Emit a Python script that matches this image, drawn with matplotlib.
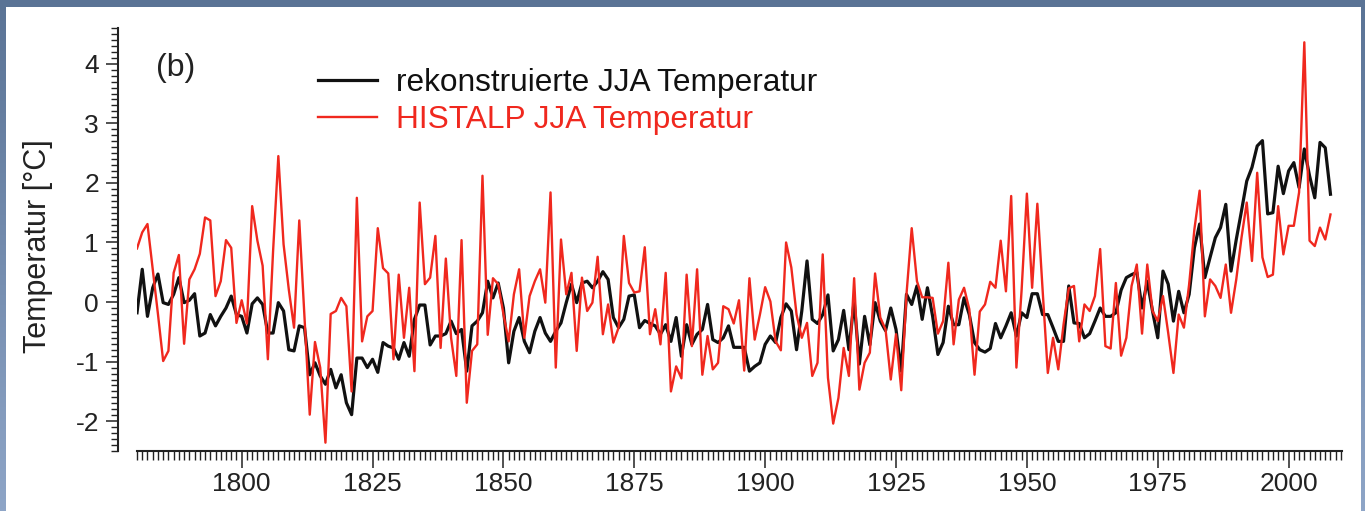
import numpy as np
import matplotlib
matplotlib.use("Agg")
import matplotlib.pyplot as plt
from matplotlib.ticker import MultipleLocator
from matplotlib.patches import Rectangle

plt.rcParams['font.family'] = ['Liberation Sans', 'DejaVu Sans']
plt.rcParams['axes.unicode_minus'] = False

# JJA temperature anomalies, 1780-2008
years = np.arange(1780, 2009)

recon = [
    # 1780-1789
    -0.18, 0.55, -0.24, 0.24, 0.47, -0.01, -0.04, 0.13, 0.41, -0.01,
    # 1790-1799
    0.03, 0.14, -0.57, -0.52, -0.21, -0.40, -0.24, -0.10, 0.10, -0.21,
    # 1800-1809
    -0.24, -0.52, -0.03, 0.07, -0.04, -0.52, -0.52, -0.01, -0.15, -0.80,
    # 1810-1819
    -0.82, -0.40, -0.43, -1.22, -1.02, -1.24, -1.38, -1.13, -1.44, -1.22,
    # 1820-1829
    -1.69, -1.89, -0.94, -0.94, -1.10, -0.96, -1.18, -0.68, -0.74, -0.77,
    # 1830-1839
    -0.96, -0.68, -0.91, -0.29, -0.05, -0.05, -0.72, -0.57, -0.57, -0.53,
    # 1840-1849
    -0.32, -0.53, -0.46, -1.16, -0.40, -0.32, -0.18, 0.35, 0.07, 0.32,
    # 1850-1859
    -0.10, -1.02, -0.49, -0.26, -0.66, -0.85, -0.49, -0.26, -0.52, -0.66,
    # 1860-1869
    -0.49, -0.35, -0.01, 0.30, -0.01, 0.32, 0.35, 0.24, 0.35, 0.51,
    # 1870-1879
    0.38, -0.26, -0.43, -0.29, 0.10, 0.12, -0.43, -0.31, -0.36, -0.40,
    # 1880-1889
    -0.54, -0.38, -0.66, -0.26, -0.91, -0.38, -0.71, -0.54, -0.46, -0.04,
    # 1890-1899
    -0.63, -0.68, -0.60, -0.40, -0.76, -0.76, -0.76, -1.16, -1.08, -1.02,
    # 1900-1909
    -0.71, -0.57, -0.68, -0.26, -0.03, -0.15, -0.80, -0.15, 0.69, -0.29,
    # 1910-1919
    -0.36, -0.21, 0.12, -0.82, -0.63, -0.14, -0.80, 0.02, -1.04, -0.24,
    # 1920-1929
    -0.72, -0.01, -0.32, -0.48, -0.10, -0.46, -1.16, 0.13, -0.04, 0.27,
    # 1930-1939
    -0.29, 0.24, -0.24, -0.88, -0.68, -0.07, -0.38, -0.38, 0.07, -0.21,
    # 1940-1949
    -0.68, -0.80, -0.84, -0.78, -0.36, -0.60, -0.40, -0.18, -0.57, -0.18,
    # 1950-1959
    -0.26, 0.14, 0.14, -0.21, -0.21, -0.43, -0.66, -0.66, 0.27, -0.35,
    # 1960-1969
    -0.36, -0.60, -0.53, -0.32, -0.10, -0.24, -0.24, -0.18, 0.20, 0.41,
    # 1970-1979
    0.46, 0.50, -0.10, 0.35, -0.15, -0.60, 0.52, 0.30, -0.32, 0.18,
    # 1980-1989
    -0.18, 0.13, 0.91, 1.31, 0.41, 0.75, 1.08, 1.25, 1.64, 0.52,
    # 1990-1999
    1.05, 1.53, 2.03, 2.26, 2.62, 2.71, 1.48, 1.50, 2.28, 1.82,
    # 2000-2008
    2.20, 2.34, 1.92, 2.57, 2.12, 1.75, 2.68, 2.59, 1.81,
]

histalp = [
    # 1780-1789
    0.90, 1.17, 1.31, 0.55, -0.20, -0.99, -0.82, 0.49, 0.79, -0.70,
    # 1790-1799
    0.38, 0.55, 0.81, 1.42, 1.37, 0.10, 0.35, 1.04, 0.91, -0.35,
    # 1800-1809
    0.03, -0.36, 1.61, 1.03, 0.61, -0.96, 0.86, 2.45, 0.97, 0.21,
    # 1810-1819
    -0.43, 1.37, -0.26, -1.89, -0.67, -1.10, -2.36, -0.20, -0.15, 0.07,
    # 1820-1829
    -0.07, -1.50, 1.75, -0.66, -0.24, -0.15, 1.24, 0.57, 0.48, -0.96,
    # 1830-1839
    0.46, -0.60, 0.24, -1.16, 1.67, 0.30, 0.41, 1.11, -0.77, 0.73,
    # 1840-1849
    -0.60, -1.24, 1.04, -1.69, -0.82, -0.71, 2.12, -0.55, 0.40, 0.30,
    # 1850-1859
    -0.20, -0.66, 0.13, 0.55, -0.60, 0.10, 0.35, 0.55, -0.01, 1.84,
    # 1860-1869
    -1.10, 1.05, 0.13, 0.49, -0.82, 0.41, -0.15, -0.01, 0.76, -0.54,
    # 1870-1879
    -0.04, -0.68, -0.43, 1.11, 0.32, 0.16, 0.18, 0.92, -0.54, -0.12,
    # 1880-1889
    -0.71, 0.49, -1.50, -1.08, -1.28, 0.46, -0.74, 0.55, -1.22, -0.57,
    # 1890-1899
    -1.13, -1.02, -0.07, -0.12, -0.36, 0.03, -1.15, 0.40, -0.63, -0.21,
    # 1900-1909
    0.25, 0.01, -0.66, -0.81, 1.00, 0.58, -0.21, -0.60, -0.35, -1.24,
    # 1910-1919
    -1.02, 0.80, -1.27, -2.04, -1.61, -0.77, -1.24, 0.40, -1.47, -1.02,
    # 1920-1929
    -0.85, 0.48, -0.26, -0.46, -1.30, -0.54, -1.48, 0.13, 1.24, 0.35,
    # 1930-1939
    0.08, 0.08, 0.07, -0.53, -0.32, 0.66, -0.71, 0.04, 0.24, -0.12,
    # 1940-1949
    -1.22, -0.16, -0.04, 0.34, 0.24, 1.03, 0.18, 1.78, -1.10, 0.21,
    # 1950-1959
    1.82, 0.24, 1.65, 0.21, -1.19, -0.60, -1.13, -0.38, 0.23, 0.27,
    # 1960-1969
    -0.66, -0.04, -0.15, 0.10, 0.89, -0.74, -0.78, 0.32, -0.90, -0.60,
    # 1970-1979
    0.27, 0.63, -0.53, 0.63, -0.15, -0.32, 0.10, -0.52, -1.19, -0.21,
    # 1980-1989
    -0.43, 0.30, 1.22, 1.87, -0.24, 0.38, 0.27, 0.07, 0.63, -0.18,
    # 1990-1999
    0.38, 1.08, 1.67, 0.69, 2.17, 0.75, 0.42, 0.46, 1.61, 0.80,
    # 2000-2008
    1.28, 1.28, 1.84, 4.36, 1.03, 0.94, 1.25, 1.05, 1.47,
]

W, H = 1365, 511
fig = plt.figure(figsize=(W / 100, H / 100), dpi=100)

# blue-grey slide frame with a white panel
bg = fig.add_axes([0, 0, 1, 1])
grad = np.linspace(0, 1, 256).reshape(-1, 1)
bg.imshow(grad, aspect='auto', extent=[0, 1, 0, 1],
          cmap=matplotlib.colors.LinearSegmentedColormap.from_list(
              'frame', ['#5a7395', '#8ea5c7']))
bg.add_patch(Rectangle((6 / W, 0), (1361 - 6) / W, (H - 7) / H,
                       facecolor='white', edgecolor='none'))
bg.set_xlim(0, 1)
bg.set_ylim(0, 1)
bg.axis('off')

ax = fig.add_axes([137 / W, 60 / H, (1342 - 137) / W, (451 - 28) / H])
ax.patch.set_alpha(0)

ax.plot(years, recon, color='#111111', lw=2.3, label='rekonstruierte JJA Temperatur')
ax.plot(years, histalp, color='#f0281e', lw=1.7, label='HISTALP JJA Temperatur')

ax.set_xlim(1780, 2010.2)
ax.set_ylim(-2.5, 4.6)

ax.spines['top'].set_visible(False)
ax.spines['right'].set_visible(False)
ax.spines['left'].set_position(('outward', 13.7))
for s in ('left', 'bottom'):
    ax.spines[s].set_linewidth(1.5)
    ax.spines[s].set_color('#222222')

ax.xaxis.set_major_locator(MultipleLocator(25))
ax.xaxis.set_minor_locator(MultipleLocator(1))
ax.yaxis.set_major_locator(MultipleLocator(1))
ax.yaxis.set_minor_locator(MultipleLocator(0.1))

ax.tick_params(axis='x', which='major', direction='out', length=12, width=1.1,
               labelsize=19, pad=3, colors='#222222')
ax.tick_params(axis='x', which='minor', direction='out', length=6.5, width=1.0,
               colors='#222222')
ax.tick_params(axis='y', which='major', direction='out', length=8.6, width=1.1,
               labelsize=19, pad=5, colors='#222222')
ax.tick_params(axis='y', which='minor', direction='out', length=5, width=1.0,
               colors='#222222')

ax.set_ylabel('Temperatur [°C]', fontsize=22, color='#222222', va='center')
ax.yaxis.set_label_coords(-0.0822, 0.485)

ax.text(0.0158, 0.905, '(b)', transform=ax.transAxes, fontsize=23,
        ha='left', va='center', color='#222222')

ax.legend(loc='upper left', bbox_to_anchor=(0.150, 0.905), frameon=False,
          fontsize=22.8, handlelength=1.86, handletextpad=0.62,
          labelspacing=0.22, borderpad=0, borderaxespad=0,
          labelcolor='linecolor')

fig.savefig('out.png', dpi=100)
